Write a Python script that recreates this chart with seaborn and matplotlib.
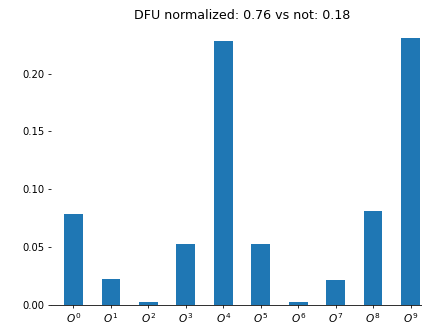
import matplotlib
matplotlib.use("Agg")
import matplotlib.pyplot as plt
import seaborn as sns
import pandas as pd

# Category labels (operator powers) and their normalized weights
categories = [rf"$O^{i}$" for i in range(10)]
values = [0.0784, 0.0222, 0.0023, 0.0525, 0.2282, 0.0525, 0.0023, 0.0213, 0.0810, 0.2308]
title = "DFU normalized: 0.76 vs not: 0.18"

df = pd.DataFrame({"op": categories, "weight": values})

fig = plt.figure(figsize=(422 / 72, 325 / 72), dpi=72)
ax = fig.add_axes([51 / 422, 20.3 / 325, 382 / 422, 280 / 325])

sns.barplot(data=df, x="op", y="weight", color="#1f77b4", saturation=1,
            width=0.5, ax=ax)

ax.set_xlim(-0.6, 9.6)
ax.set_ylim(0, max(values) * 1.05)
ax.set_yticks([0.0, 0.05, 0.10, 0.15, 0.20])
ax.set_yticklabels(["0.00", "0.05", "0.10", "0.15", "0.20"])
ax.set_xlabel("")
ax.set_ylabel("")
ax.set_title(title, fontsize=12.6)
ax.tick_params(length=3)
ax.tick_params(axis="x", labelsize=10.5)

sns.despine(ax=ax, left=True)

fig.savefig("out.png", dpi=72)
